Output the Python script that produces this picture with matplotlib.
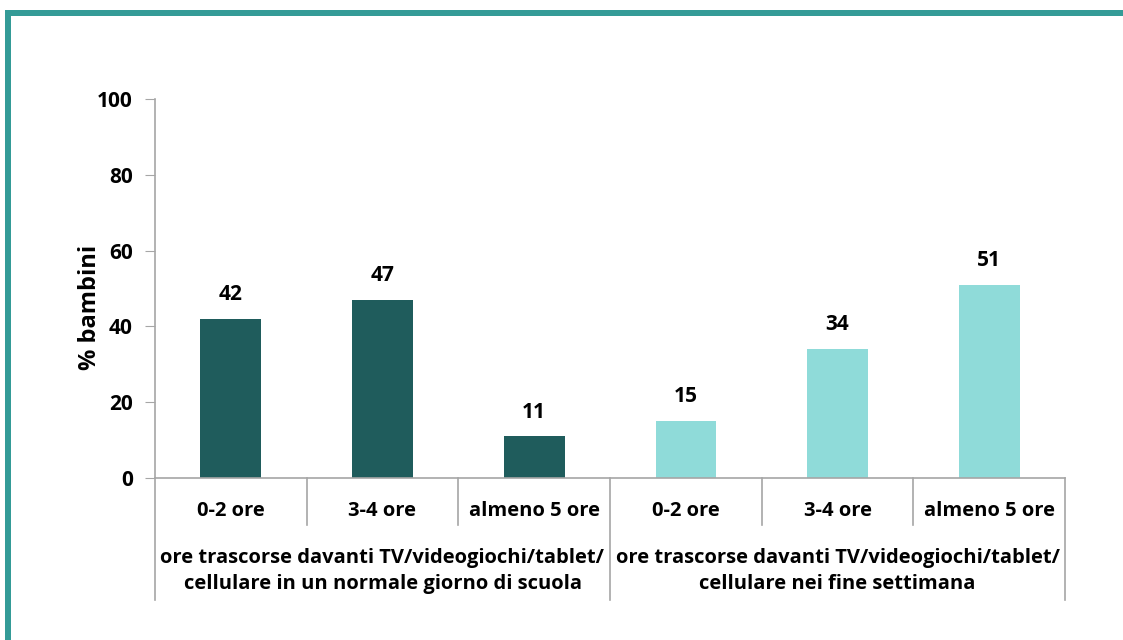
import matplotlib.pyplot as plt
from matplotlib.patches import Rectangle

categories = ['0-2 ore', '3-4 ore', 'almeno 5 ore', '0-2 ore', '3-4 ore', 'almeno 5 ore']
values = [42, 47, 11, 15, 34, 51]
groups = ['ore trascorse davanti TV/videogiochi/tablet/\ncellulare in un normale giorno di scuola',
          'ore trascorse davanti TV/videogiochi/tablet/\ncellulare nei fine settimana']
yticks = [0, 20, 40, 60, 80, 100]

dark = '#1f5c5c'
light = '#8fdbd9'
frame = '#349b97'
grey = '#a6a6a6'

plt.rcParams['font.family'] = ['Open Sans', 'DejaVu Sans']

W, H = 1123, 640
fig = plt.figure(figsize=(W / 100, H / 100), dpi=100)

# teal frame on top and left
fig.add_artist(Rectangle((5 / W, 1 - 16 / H), 1, 6 / H, transform=fig.transFigure,
                         color=frame, lw=0))
fig.add_artist(Rectangle((5 / W, -0.1), 6 / W, 1.1 - 10 / H, transform=fig.transFigure,
                         color=frame, lw=0))

ax = fig.add_axes([155 / W, (H - 478) / H, (1065 - 155) / W, (478 - 99) / H])

x = list(range(len(values)))
colors = [dark] * 3 + [light] * 3
bars = ax.bar(x, values, width=0.4, color=colors)

for xi, v in zip(x, values):
    ax.annotate(str(v), (xi, v), xytext=(0, 13.5), textcoords='offset points',
                ha='center', va='baseline', fontsize=15, fontweight='bold')

ax.set_xlim(-0.5, 5.5)
ax.set_ylim(0, 100)
ax.set_yticks(yticks)
ax.set_yticklabels([str(t) for t in yticks], fontsize=15, fontweight='bold')
ax.set_xticks([])
ax.tick_params(axis='y', length=7, color=grey, pad=9)
for s in ['top', 'right']:
    ax.spines[s].set_visible(False)
for s in ['left', 'bottom']:
    ax.spines[s].set_color(grey)
    ax.spines[s].set_linewidth(1.2)

ax.set_ylabel('% bambini', fontsize=17, fontweight='bold')
ax.yaxis.set_label_coords(-0.058, 0.449)

# multi-level category axis below the plot
tr = ax.get_xaxis_transform()
y_cat = -47 / 379
y_grp = -122 / 379
for b in [0.5, 1.5, 3.5, 4.5]:
    ax.plot([b, b], [0, y_cat], transform=tr, color=grey, lw=1.2, clip_on=False)
for b in [-0.5, 2.5, 5.5]:
    ax.plot([b, b], [0, y_grp], transform=tr, color=grey, lw=1.2, clip_on=False)

for xi, c in zip(x, categories):
    ax.text(xi, -33 / 379, c, transform=tr, ha='center', va='center',
            fontsize=14.5, fontweight='bold')

for gx, g in zip([1, 4], groups):
    ax.text(gx, -93 / 379, g, transform=tr, ha='center', va='center',
            fontsize=14.5, fontweight='bold', linespacing=1.45)

fig.savefig('out.png', dpi=100)
